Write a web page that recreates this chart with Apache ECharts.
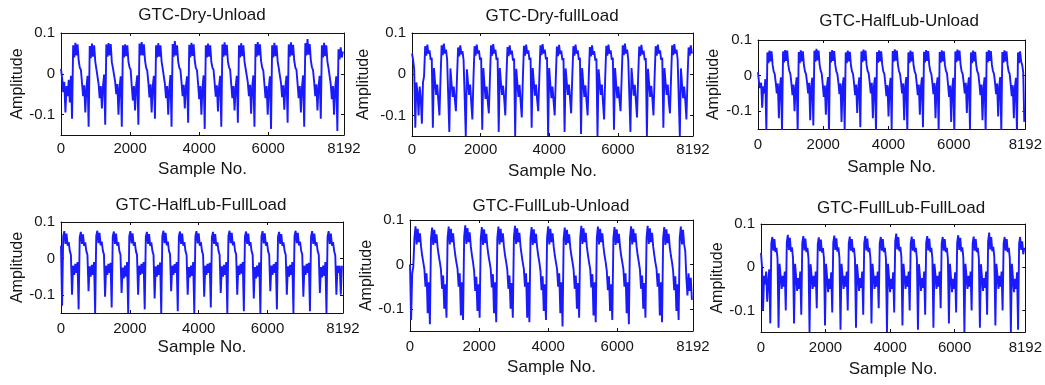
<!DOCTYPE html>
<html><head><meta charset="utf-8">
<script src="https://cdn.jsdelivr.net/npm/echarts@6/dist/echarts.min.js"></script>
<style>html,body{margin:0;padding:0;background:#fff}#c{width:1045px;height:385px}</style>
</head><body><div id="c"></div>
<script>
// sample spacing between stored points (samples)
const sampleStep = 32;
const panelTitles = ['GTC-Dry-Unload','GTC-Dry-fullLoad','GTC-HalfLub-Unload','GTC-HalfLub-FullLoad','GTC-FullLub-Unload','GTC-FullLub-FullLoad'];
const xTickValues = [0, 2000, 4000, 6000, 8192];
const yTickValues = [-0.1, 0, 0.1];
const xAxisTitle = 'Sample No.';
const yAxisTitle = 'Amplitude';

const dryUnload = [
.012,-.01,-.045,-.02,-.095,-.03,-.055,-.015,-.07,-.005,-.11,
.07,.04,.076,.045,.072,.032,.015,.01,-.022,-.055,-.028,-.095,-.035,-.005,-.13,
.068,.038,.074,.042,.07,.03,.012,.008,-.025,-.06,-.03,-.085,-.03,-.002,-.125,
.072,.042,.075,.045,.073,.028,.014,.01,-.02,-.05,-.025,-.1,-.032,-.006,-.13,
.07,.04,.072,.043,.07,.03,.016,.01,-.03,-.065,-.03,-.09,-.028,-.004,-.125,
.074,.045,.078,.045,.072,.033,.015,.008,-.02,-.058,-.026,-.095,-.03,-.005,-.11,
.07,.04,.075,.042,.07,.03,.013,.01,-.025,-.06,-.03,-.1,-.035,-.003,-.13,
.073,.042,.08,.045,.07,.03,.015,.01,-.02,-.055,-.027,-.085,-.03,-.006,-.12,
.071,.04,.076,.044,.072,.032,.014,.009,-.024,-.062,-.03,-.1,-.033,-.004,-.135,
.07,.04,.074,.042,.07,.029,.015,.01,-.022,-.056,-.028,-.092,-.03,-.005,-.13,
.072,.042,.077,.045,.071,.03,.016,.01,-.026,-.06,-.03,-.09,-.032,-.005,-.12,
.07,.04,.075,.043,.07,.03,.013,.01,-.021,-.055,-.027,-.098,-.03,-.004,-.13,
.073,.042,.078,.045,.072,.031,.015,.008,-.025,-.06,-.03,-.1,-.034,-.006,-.135,
.07,.04,.076,.043,.07,.03,.014,.01,-.022,-.057,-.028,-.088,-.03,-.005,-.12,
.072,.042,.077,.045,.071,.032,.015,.01,-.024,-.06,-.03,-.095,-.032,-.004,-.13,
.075,.045,.085,.047,.073,.033,.016,.009,-.02,-.055,-.026,-.09,-.03,-.005,-.11,
.07,.04,.076,.043,.07,.03,.014,.01,-.025,-.062,-.03,-.1,-.035,-.006,-.14,
.06,.035,.065,.04,.055
];

const dryFullLoad = [
.05,.035,.012,-.13,-.02,-.045,-.1,-.03,-.06,-.12,-.02,-.005,
.068,.045,.072,.05,.058,.035,.04,-.13,.015,-.02,-.05,-.025,-.065,-.1,-.01,
.07,.046,.074,.05,.06,.036,.04,-.14,.014,-.022,-.055,-.03,-.06,-.09,-.008,
.065,.043,.07,.048,.056,.034,.038,-.15,.012,-.02,-.05,-.025,-.07,-.11,-.01,
.068,.045,.072,.05,.058,.035,.04,-.135,.015,-.025,-.06,-.03,-.065,-.095,-.01,
.07,.045,.073,.05,.06,.035,.04,-.14,.015,-.02,-.05,-.028,-.06,-.1,-.008,
.066,.044,.07,.048,.057,.033,.038,-.15,.013,-.022,-.055,-.026,-.068,-.105,-.01,
.069,.045,.072,.05,.058,.035,.04,-.13,.015,-.02,-.052,-.025,-.062,-.09,-.009,
.07,.046,.073,.05,.06,.036,.041,-.15,.015,-.024,-.058,-.03,-.066,-.1,-.01,
.067,.044,.071,.049,.057,.034,.039,-.14,.014,-.02,-.05,-.025,-.06,-.095,-.008,
.068,.045,.072,.05,.058,.035,.04,-.145,.015,-.022,-.055,-.027,-.065,-.1,-.01,
.066,.043,.07,.047,.056,.033,.038,-.15,.012,-.02,-.05,-.025,-.07,-.11,-.01,
.069,.045,.072,.05,.058,.035,.04,-.135,.015,-.024,-.058,-.03,-.062,-.09,-.008,
.07,.046,.074,.05,.06,.036,.04,-.14,.015,-.02,-.052,-.026,-.065,-.105,-.01,
.067,.044,.071,.048,.057,.034,.039,-.15,.013,-.022,-.055,-.028,-.06,-.1,-.009,
.068,.045,.072,.05,.058,.035,.04,-.13,.015,-.02,-.05,-.025,-.068,-.095,-.01,
.07,.046,.073,.05,.06,.036,.04,-.15,.014,-.024,-.058,-.03,-.065,-.11,-.01,
.065,.045,.07,.05
];

const halfLubUnload = [
.01,-.02,-.035,-.02,-.09,-.03,-.05,-.01,-.155,
.065,.035,.07,.04,.068,.03,.012,.005,-.02,-.05,-.022,-.12,-.03,-.005,-.155,
.068,.037,.072,.041,.07,.03,.013,.005,-.022,-.055,-.025,-.1,-.035,-.005,-.16,
.066,.035,.071,.04,.068,.029,.012,.004,-.02,-.05,-.02,-.125,-.03,-.006,-.14,
.07,.039,.075,.043,.07,.031,.014,.006,-.025,-.06,-.028,-.11,-.032,-.004,-.16,
.067,.037,.072,.041,.069,.03,.012,.005,-.02,-.052,-.022,-.13,-.03,-.005,-.155,
.065,.035,.07,.04,.067,.029,.012,.005,-.022,-.055,-.025,-.105,-.034,-.005,-.145,
.068,.038,.073,.042,.07,.03,.013,.006,-.02,-.05,-.02,-.12,-.03,-.005,-.16,
.066,.036,.071,.04,.068,.03,.012,.005,-.024,-.058,-.027,-.115,-.033,-.006,-.15,
.069,.039,.074,.042,.07,.031,.013,.005,-.02,-.05,-.022,-.125,-.03,-.004,-.16,
.065,.035,.07,.04,.067,.029,.012,.005,-.022,-.055,-.025,-.11,-.032,-.005,-.145,
.067,.037,.072,.041,.069,.03,.012,.005,-.02,-.052,-.021,-.12,-.03,-.005,-.155,
.066,.036,.071,.04,.068,.03,.013,.006,-.025,-.06,-.028,-.13,-.035,-.006,-.16,
.068,.038,.073,.042,.07,.031,.012,.005,-.02,-.05,-.02,-.105,-.03,-.005,-.15,
.065,.035,.07,.04,.067,.029,.012,.005,-.022,-.055,-.025,-.125,-.033,-.005,-.16,
.067,.037,.072,.041,.069,.03,.013,.005,-.02,-.052,-.022,-.115,-.03,-.004,-.155,
.066,.036,.071,.04,.068,.03,.012,.005,-.024,-.058,-.027,-.12,-.034,-.006,-.16,
.065,.035,.068,.04,.03,.01,-.13
];

const halfLubFullLoad = [
.035,-.13,
.06,.075,.04,.068,.035,.045,.02,.01,-.1,-.02,-.045,-.015,-.04,-.01,-.14,
.058,.073,.04,.066,.034,.044,.02,.01,-.09,-.022,-.05,-.018,-.045,-.01,-.15,
.062,.076,.042,.07,.036,.046,.021,.011,-.105,-.02,-.045,-.015,-.04,-.012,-.135,
.06,.074,.04,.068,.035,.045,.02,.01,-.095,-.025,-.055,-.02,-.05,-.01,-.15,
.061,.075,.041,.069,.035,.045,.02,.01,-.1,-.02,-.045,-.015,-.042,-.01,-.14,
.059,.073,.04,.067,.034,.044,.02,.01,-.11,-.022,-.05,-.018,-.045,-.011,-.15,
.062,.076,.042,.07,.036,.046,.021,.011,-.09,-.02,-.045,-.016,-.04,-.01,-.145,
.06,.074,.04,.068,.035,.045,.02,.01,-.1,-.024,-.052,-.02,-.048,-.01,-.15,
.061,.075,.041,.069,.035,.045,.02,.01,-.105,-.02,-.045,-.015,-.04,-.012,-.135,
.059,.073,.04,.067,.034,.044,.02,.01,-.095,-.022,-.05,-.018,-.045,-.01,-.15,
.062,.076,.042,.07,.036,.046,.021,.011,-.1,-.02,-.045,-.015,-.042,-.01,-.145,
.06,.074,.04,.068,.035,.045,.02,.01,-.11,-.024,-.055,-.02,-.05,-.011,-.15,
.061,.075,.041,.069,.035,.045,.02,.01,-.09,-.02,-.045,-.016,-.04,-.01,-.14,
.059,.073,.04,.067,.034,.044,.02,.01,-.1,-.022,-.05,-.018,-.045,-.01,-.15,
.062,.076,.042,.07,.036,.046,.021,.011,-.105,-.02,-.045,-.015,-.04,-.012,-.145,
.06,.075,.04,.068,.035,.045,.02,.01,-.095,-.024,-.052,-.02,-.048,-.01,-.15,
.06,.075,.04,.068,.035,.045,.02,.008,-.1,-.02,-.04,-.02,-.1,-.02
];

const fullLubUnload = [
.0,-.125,-.02,-.005,
.06,.086,.045,.08,.05,.07,.04,.02,.005,-.01,-.05,-.02,-.11,-.04,-.135,
.058,.083,.044,.078,.048,.068,.038,.02,.005,-.012,-.055,-.025,-.1,-.045,-.12,
.06,.085,.045,.08,.05,.07,.04,.02,.004,-.01,-.05,-.02,-.115,-.04,-.125,
.062,.088,.046,.082,.05,.072,.041,.021,.005,-.015,-.06,-.028,-.105,-.045,-.12,
.058,.084,.044,.079,.048,.069,.039,.02,.005,-.01,-.052,-.022,-.11,-.04,-.13,
.06,.085,.045,.08,.05,.07,.04,.02,.005,-.012,-.055,-.025,-.1,-.042,-.12,
.061,.087,.046,.081,.05,.071,.04,.021,.004,-.01,-.05,-.02,-.12,-.04,-.13,
.059,.084,.044,.079,.048,.069,.039,.02,.005,-.014,-.058,-.027,-.105,-.045,-.125,
.06,.086,.045,.08,.05,.07,.04,.02,.005,-.01,-.05,-.02,-.11,-.04,-.14,
.058,.083,.044,.078,.048,.068,.038,.02,.005,-.012,-.055,-.025,-.1,-.042,-.12,
.061,.087,.046,.081,.05,.071,.04,.021,.004,-.01,-.052,-.022,-.115,-.04,-.13,
.06,.085,.045,.08,.05,.07,.04,.02,.005,-.014,-.058,-.027,-.105,-.045,-.125,
.059,.084,.044,.079,.048,.069,.039,.02,.005,-.01,-.05,-.02,-.11,-.04,-.135,
.06,.086,.045,.08,.05,.07,.04,.02,.005,-.012,-.055,-.025,-.1,-.042,-.12,
.061,.087,.046,.081,.05,.071,.04,.021,.004,-.01,-.05,-.02,-.115,-.04,-.13,
.059,.084,.044,.079,.048,.069,.039,.02,.005,-.014,-.058,-.027,-.105,-.045,-.125,
.06,.085,.045,.078,.045,.03,-.03,-.07,-.02,-.06,-.03,-.08
];

const fullLubFullLoad = [
.033,.0,-.1,-.02,-.04,-.01,-.08,-.03,-.005,-.13,
.055,.07,.038,.065,.035,.045,.02,-.14,.008,-.02,-.05,-.02,-.045,-.01,-.1,
.058,.075,.04,.068,.036,.046,.021,-.13,.008,-.022,-.055,-.025,-.05,-.01,-.11,
.056,.072,.039,.066,.035,.045,.02,-.15,.007,-.02,-.05,-.02,-.045,-.01,-.095,
.054,.069,.037,.064,.034,.044,.02,-.135,.008,-.024,-.058,-.027,-.05,-.012,-.105,
.057,.073,.04,.067,.036,.046,.021,-.145,.008,-.02,-.05,-.02,-.045,-.01,-.1,
.055,.071,.038,.065,.035,.045,.02,-.14,.007,-.022,-.055,-.025,-.048,-.01,-.11,
.056,.072,.039,.066,.035,.045,.02,-.13,.008,-.02,-.05,-.02,-.045,-.01,-.095,
.055,.07,.038,.065,.035,.045,.02,-.15,.008,-.024,-.058,-.027,-.05,-.012,-.105,
.06,.078,.041,.07,.037,.047,.022,-.135,.008,-.02,-.05,-.02,-.045,-.01,-.1,
.055,.071,.038,.065,.035,.045,.02,-.145,.007,-.022,-.055,-.025,-.048,-.01,-.11,
.056,.072,.039,.066,.035,.045,.02,-.14,.008,-.02,-.05,-.02,-.045,-.01,-.095,
.055,.07,.038,.065,.035,.045,.02,-.13,.008,-.024,-.058,-.027,-.05,-.012,-.105,
.057,.074,.04,.068,.036,.046,.021,-.15,.008,-.02,-.05,-.02,-.045,-.01,-.1,
.055,.071,.038,.065,.035,.045,.02,-.14,.007,-.022,-.055,-.025,-.048,-.01,-.11,
.06,.08,.041,.07,.037,.047,.022,-.135,.008,-.02,-.05,-.02,-.045,-.01,-.1,
.055,.07,.038,.065,.035,.045,.02,-.15,.008,-.024,-.058,-.027,-.05,-.012,-.145,
.055,.07,.04,.06,.03,.045
];

const panelSeries = [dryUnload, dryFullLoad, halfLubUnload, halfLubFullLoad, fullLubUnload, fullLubFullLoad];

// layout (pixels): grid box, title centre, axis name gaps
const layout = [
  {l:61, t:33, w:283, h:102, tx:202, ty:7,  yGap:34, xGap:26, xm:6},
  {l:412,t:33, w:281, h:103, tx:552, ty:8,  yGap:40, xGap:27, xm:6},
  {l:758,t:40, w:284, h:89,  tx:899, ty:13, yGap:36, xGap:30, xm:8},
  {l:61, t:222,w:282, h:91,  tx:201, ty:197,yGap:35, xGap:26, xm:8},
  {l:410,t:220,w:283, h:111, tx:551, ty:198,yGap:34, xGap:28, xm:8},
  {l:761,t:224,w:281, h:108, tx:901, ty:200,yGap:35, xGap:29, xm:8}
];

const FONT = 'Liberation Sans, Arial, sans-serif';
const TXT = '#161616';
const lineCol = '#111';
const opt = {animation:false, backgroundColor:'#fff', title:[], grid:[], xAxis:[], yAxis:[], series:[]};
layout.forEach((g, k) => {
  opt.title.push({text: panelTitles[k], left: g.tx, top: g.ty, textAlign:'center', padding:0,
    textStyle:{fontFamily:FONT, fontSize:17, fontWeight:'normal', color:TXT}});
  opt.grid.push({left:g.l, top:g.t, width:g.w, height:g.h});
  const axLine = {show:true, onZero:false, lineStyle:{color:lineCol, width:1}};
  opt.xAxis.push({type:'value', gridIndex:k, min:0, max:8192, interval:2048, position:'bottom',
    axisLine:axLine, splitLine:{show:false},
    axisTick:{show:true, inside:true, length:3, customValues:xTickValues, lineStyle:{color:lineCol}},
    axisLabel:{customValues:xTickValues, formatter:v=>String(v), margin:g.xm, fontFamily:FONT, fontSize:15, color:TXT},
    name:xAxisTitle, nameLocation:'middle', nameGap:g.xGap, nameTextStyle:{fontFamily:FONT, fontSize:17, color:TXT}});
  opt.xAxis.push({type:'value', gridIndex:k, min:0, max:8192, interval:2048, position:'top',
    axisLine:axLine, splitLine:{show:false}, axisLabel:{show:false},
    axisTick:{show:true, inside:true, length:3, customValues:xTickValues.slice(1,4), lineStyle:{color:lineCol}}});
  opt.yAxis.push({type:'value', gridIndex:k, min:-0.15, max:0.1, interval:0.05, position:'left',
    axisLine:axLine, splitLine:{show:false},
    axisTick:{show:true, inside:true, length:3, customValues:yTickValues, lineStyle:{color:lineCol}},
    axisLabel:{customValues:yTickValues, formatter:v=>String(v), margin:6, fontFamily:FONT, fontSize:15, color:TXT},
    name:yAxisTitle, nameLocation:'middle', nameGap:g.yGap, nameRotate:90, nameTextStyle:{fontFamily:FONT, fontSize:16, color:TXT}});
  opt.yAxis.push({type:'value', gridIndex:k, min:-0.15, max:0.1, interval:0.05, position:'right',
    axisLine:axLine, splitLine:{show:false}, axisLabel:{show:false},
    axisTick:{show:true, inside:true, length:3, customValues:yTickValues, lineStyle:{color:lineCol}}});
  opt.series.push({type:'line', xAxisIndex:2*k, yAxisIndex:2*k, showSymbol:false, symbol:'none',
    data: panelSeries[k].map((v,i)=>[i*sampleStep, v]), clip:true,
    lineStyle:{color:'#1a1aff', width:1.9}});
});
const chart = echarts.init(document.getElementById('c'), null, {renderer:'canvas'});
chart.setOption(opt);
</script></body></html>
